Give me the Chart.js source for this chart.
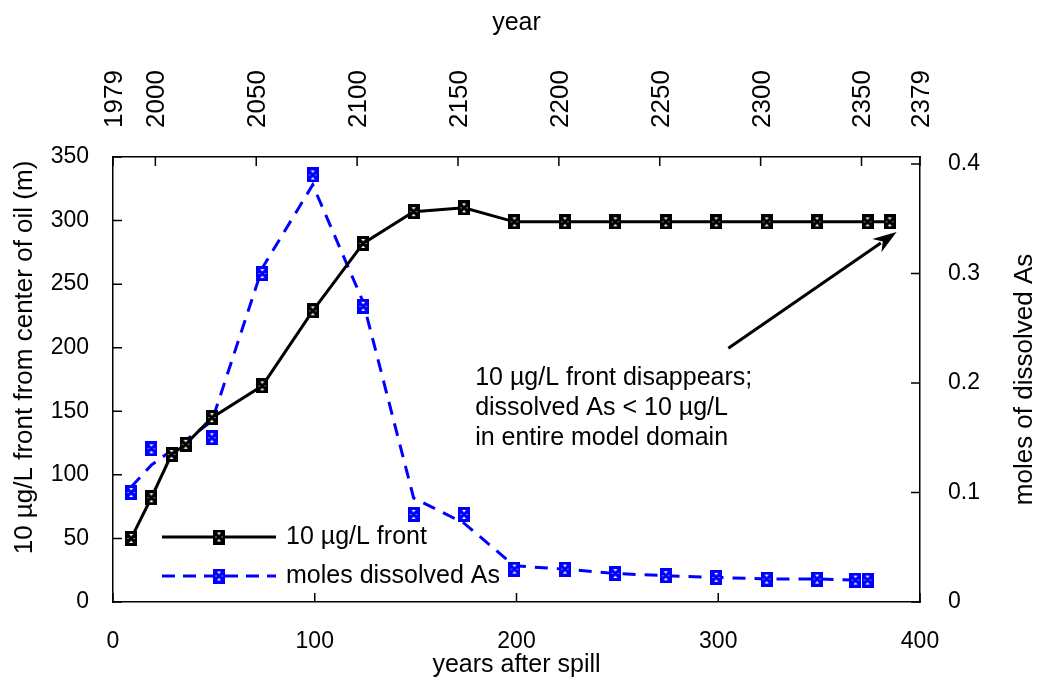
<!DOCTYPE html>
<html>
<head>
<meta charset="utf-8">
<script src="https://cdn.jsdelivr.net/npm/chart.js@4.4.1/dist/chart.umd.min.js"></script>
<style>
html, body { margin: 0; padding: 0; background: #fff; }
</style>
</head>
<body>
<canvas id="spillChart" width="1039" height="680"></canvas>
<script>
// ---- data ----
const frontYears  = [9, 19, 29, 36, 49, 74, 99, 124, 149, 174, 199, 224, 249, 274, 299, 324, 349, 374, 385];
const frontMeters = [50, 82, 116, 124, 145, 170, 229, 282, 307, 310, 299, 299, 299, 299, 299, 299, 299, 299, 299];

const molesYears  = [9, 19, 49, 74, 99, 124, 149, 174, 199, 224, 249, 274, 299, 324, 349, 368, 374];
const molesPoints = [0.10, 0.14, 0.15, 0.30, 0.39, 0.27, 0.08, 0.08, 0.03, 0.03, 0.026, 0.024, 0.0225, 0.021, 0.021, 0.020, 0.020];
const molesCurve  = [0.105, 0.125, 0.165, 0.305, 0.381, 0.274, 0.095, 0.072, 0.033, 0.030, 0.026, 0.024, 0.0225, 0.021, 0.021, 0.020, 0.020];

const yearTicks  = [1979, 2000, 2050, 2100, 2150, 2200, 2250, 2300, 2350, 2379];
const molesTicks = [0, 0.1, 0.2, 0.3, 0.4];

const frontLabel = '10 \u00b5g/L front';
const molesLabel = 'moles dissolved As';
const leftTitle  = '10 \u00b5g/L front from center of oil (m)';
const rightTitle = 'moles of dissolved As';
const noteLines  = ['10 \u00b5g/L front disappears;', 'dissolved As < 10 \u00b5g/L', 'in entire model domain'];

// ---- styles ----
const FONT = '"Liberation Sans", Arial, sans-serif';
const BLUE = '#0000ff';
const tickFont  = { family: FONT, size: 23 };
const yearFont  = { family: FONT, size: 26 };

function makeMarker(color) {
    const c = document.createElement('canvas');
    c.width = 12; c.height = 15;
    const g = c.getContext('2d');
    g.fillStyle = color;
    g.fillRect(0, 0, 12, 15);
    g.fillStyle = '#fff';
    g.beginPath(); g.moveTo(4, 3); g.lineTo(8, 3); g.lineTo(6, 5.5); g.closePath(); g.fill();
    g.beginPath(); g.moveTo(4, 12); g.lineTo(8, 12); g.lineTo(6, 9.5); g.closePath(); g.fill();
    g.fillRect(2.5, 7, 1, 1);
    g.fillRect(8.5, 7, 1, 1);
    return c;
}
const markerBlack = makeMarker('#000');
const markerBlue  = makeMarker(BLUE);

const pts = (xs, ys) => xs.map((x, i) => ({ x: x, y: ys[i] }));

function rotatedText(ctx, text, x, y) {
    ctx.save();
    ctx.translate(x, y);
    ctx.rotate(-Math.PI / 2);
    ctx.font = '26px ' + FONT;
    ctx.fillStyle = '#000';
    ctx.textAlign = 'center';
    ctx.textBaseline = 'middle';
    ctx.fillText(text, 0, 0);
    ctx.restore();
}

// =============================
// INNER TICK MARKS + SIDE TITLES
// =============================
const innerTicks = {
    id: 'innerTicks',
    afterDraw(chart) {
        const { ctx, chartArea: a, scales } = chart;
        const len = 9;
        ctx.save();
        ctx.strokeStyle = '#000';
        ctx.lineWidth = 1.5;
        ctx.beginPath();
        scales.x.ticks.forEach(t => {
            const p = scales.x.getPixelForValue(t.value);
            ctx.moveTo(p, a.bottom); ctx.lineTo(p, a.bottom - len);
        });
        scales.x2.ticks.forEach(t => {
            const p = scales.x2.getPixelForValue(t.value);
            ctx.moveTo(p, a.top); ctx.lineTo(p, a.top + len);
        });
        scales.y.ticks.forEach(t => {
            const p = scales.y.getPixelForValue(t.value);
            ctx.moveTo(a.left, p); ctx.lineTo(a.left + len, p);
        });
        scales.y2.ticks.forEach(t => {
            const p = scales.y2.getPixelForValue(t.value);
            ctx.moveTo(a.right, p); ctx.lineTo(a.right - len, p);
        });
        ctx.stroke();
        ctx.restore();

        // both side titles read bottom to top
        rotatedText(ctx, leftTitle, 25, (a.top + a.bottom) / 2 - 22);
        rotatedText(ctx, rightTitle, chart.width - 14, (a.top + a.bottom) / 2);
    }
};

// =============================
// LEGEND INSIDE THE PLOT
// =============================
const innerLegend = {
    id: 'innerLegend',
    afterDatasetsDraw(chart) {
        const { ctx, chartArea: a } = chart;
        const rows = [
            { label: frontLabel, color: '#000', dash: [], marker: markerBlack },
            { label: molesLabel, color: BLUE, dash: [13, 8], marker: markerBlue }
        ];
        rows.forEach((r, i) => {
            const y = a.bottom - 65 + i * 39;
            const x0 = a.left + 49, x1 = a.left + 163, xm = (x0 + x1) / 2;
            ctx.save();
            ctx.strokeStyle = r.color;
            ctx.lineWidth = 3;
            ctx.setLineDash(r.dash);
            ctx.beginPath(); ctx.moveTo(x0, y); ctx.lineTo(x1, y); ctx.stroke();
            ctx.drawImage(r.marker, xm - 6, y - 7.5);
            ctx.font = '25px ' + FONT;
            ctx.fillStyle = '#000';
            ctx.textBaseline = 'middle';
            ctx.fillText(r.label, a.left + 173, y);
            ctx.restore();
        });
    }
};

// =============================
// ANNOTATION + ARROW
// =============================
const note = {
    id: 'note',
    afterDatasetsDraw(chart) {
        const { ctx, scales } = chart;
        const sx = scales.x, sy = scales.y;
        ctx.save();
        ctx.font = '25px ' + FONT;
        ctx.fillStyle = '#000';
        ctx.textBaseline = 'middle';
        const tx = sx.getPixelForValue(179.5), ty = sy.getPixelForValue(176);
        noteLines.forEach((s, i) => ctx.fillText(s, tx, ty + i * 30));

        const x0 = sx.getPixelForValue(305), y0 = sy.getPixelForValue(199.5);
        const x1 = sx.getPixelForValue(388.4), y1 = sy.getPixelForValue(291);
        const ang = Math.atan2(y1 - y0, x1 - x0);
        const hl = 24, hw = 8;
        ctx.strokeStyle = '#000';
        ctx.lineWidth = 3;
        ctx.beginPath();
        ctx.moveTo(x0, y0);
        ctx.lineTo(x1 - hl * 0.8 * Math.cos(ang), y1 - hl * 0.8 * Math.sin(ang));
        ctx.stroke();
        ctx.beginPath();
        ctx.moveTo(x1, y1);
        ctx.lineTo(x1 - hl * Math.cos(ang) + hw * Math.sin(ang), y1 - hl * Math.sin(ang) - hw * Math.cos(ang));
        ctx.lineTo(x1 - hl * 0.7 * Math.cos(ang), y1 - hl * 0.7 * Math.sin(ang));
        ctx.lineTo(x1 - hl * Math.cos(ang) - hw * Math.sin(ang), y1 - hl * Math.sin(ang) + hw * Math.cos(ang));
        ctx.closePath();
        ctx.fill();
        ctx.restore();
    }
};

const axisBorder = { display: true, color: '#000', width: 1.5 };
const noGrid = { display: false, drawTicks: false };

new Chart(document.getElementById('spillChart'), {
    type: 'line',
    data: {
        datasets: [
            {
                label: molesLabel + ' points', data: pts(molesYears, molesPoints),
                yAxisID: 'y2', showLine: false,
                pointStyle: markerBlue, pointRadius: 7
            },
            {
                label: frontLabel, data: pts(frontYears, frontMeters),
                yAxisID: 'y', borderColor: '#000', borderWidth: 3, tension: 0,
                pointStyle: markerBlack, pointRadius: 7
            },
            {
                label: molesLabel, data: pts(molesYears, molesCurve),
                yAxisID: 'y2', borderColor: BLUE, borderWidth: 3, borderDash: [13, 9],
                tension: 0, pointRadius: 0
            }
        ]
    },
    options: {
        responsive: false,
        animation: false,
        layout: { padding: 0 },
        plugins: { legend: { display: false }, tooltip: { enabled: false } },
        scales: {
            x: {
                type: 'linear', position: 'bottom', min: 0, max: 400,
                ticks: { stepSize: 100, padding: 26, font: tickFont, color: '#000', maxRotation: 0 },
                grid: noGrid, border: axisBorder,
                title: { display: true, text: 'years after spill', font: { family: FONT, size: 25 }, color: '#000', padding: { top: 0, bottom: 0 } },
                afterFit(s) { s.height = 78; }
            },
            x2: {
                type: 'linear', position: 'top', min: 1979, max: 2379,
                afterBuildTicks(s) { s.ticks = yearTicks.map(v => ({ value: v })); },
                ticks: { autoSkip: false, minRotation: 90, maxRotation: 90, padding: 29, labelOffset: 33, font: yearFont, color: '#000', callback: v => String(v) },
                grid: noGrid, border: axisBorder,
                title: { display: true, text: 'year', font: { family: FONT, size: 25 }, color: '#000', padding: { top: 8, bottom: 0 } },
                afterFit(s) { s.height = 157; }
            },
            y: {
                type: 'linear', position: 'left', min: 0, max: 350,
                ticks: { stepSize: 50, padding: 24, font: tickFont, color: '#000' },
                grid: noGrid, border: axisBorder,
                afterFit(s) { s.width = 113; }
            },
            y2: {
                type: 'linear', position: 'right', min: 0, max: 0.4064,
                afterBuildTicks(s) { s.ticks = molesTicks.map(v => ({ value: v })); },
                ticks: { padding: 28, font: tickFont, color: '#000', callback: v => v === 0 ? '0' : v.toFixed(1) },
                grid: noGrid, border: axisBorder,
                afterFit(s) { s.width = 119; }
            }
        }
    },
    plugins: [innerTicks, innerLegend, note]
});
</script>
</body>
</html>
